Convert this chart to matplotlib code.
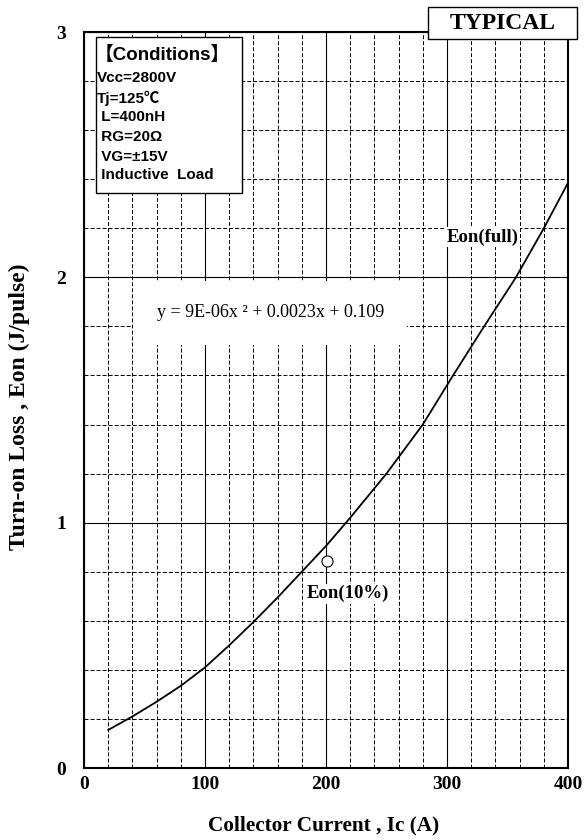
import matplotlib
matplotlib.use('Agg')
import matplotlib.pyplot as plt
from matplotlib.patches import Rectangle
from matplotlib.ticker import MultipleLocator

# curve
ic = [20, 40, 60, 80, 100, 120, 140, 160, 180, 200, 220, 250, 280, 305, 330, 357, 380, 400]
eon = [0.155, 0.21, 0.27, 0.335, 0.41, 0.50, 0.595, 0.695, 0.80, 0.905, 1.02, 1.20,
       1.40, 1.60, 1.795, 2.00, 2.20, 2.385]

# Eon(10%) marker
ic_10 = [201]
eon_10 = [0.845]

x_ticks = [0, 100, 200, 300, 400]
y_ticks = [0, 1, 2, 3]

conditions = ['Vcc=2800V', 'Tj=125\u2103', ' L=400nH', ' RG=20\u03a9', ' VG=\u00b115V', ' Inductive  Load']
equation = 'y = 9E-06x \u00b2 + 0.0023x + 0.109'

serif = 'Liberation Serif'
sans = ['Liberation Sans', 'Noto Sans CJK JP', 'DejaVu Sans']

fig = plt.figure(figsize=(5.84, 8.4), dpi=100)
ax = fig.add_axes([0.1438, 0.0857, 0.8288, 0.8762])

ax.set_xlim(0, 400)
ax.set_ylim(0, 3)
ax.xaxis.set_minor_locator(MultipleLocator(20))
ax.yaxis.set_minor_locator(MultipleLocator(0.2))
ax.set_xticks(x_ticks)
ax.set_yticks(y_ticks)

ax.grid(which='major', color='black', linewidth=0.8, linestyle='-')
ax.grid(which='minor', color='black', linewidth=0.7, linestyle=(0, (4.1, 2.1)))
ax.tick_params(which='both', length=0)
ax.tick_params(axis='x', pad=6)
ax.tick_params(axis='y', pad=13)
for lab in ax.get_xticklabels() + ax.get_yticklabels():
    lab.set_fontfamily(serif)
    lab.set_fontweight('bold')
    lab.set_fontsize(14)
for sp in ax.spines.values():
    sp.set_linewidth(1.5)
    sp.set_zorder(5)

ax.plot(ic, eon, color='black', linewidth=1.3, zorder=3)
ax.plot(ic_10, eon_10, 'o', markersize=8, markerfacecolor='white',
        markeredgecolor='black', markeredgewidth=0.8, zorder=4)

ax.text(184, 0.71, 'Eon(10%)', family=serif, fontweight='bold', fontsize=13.5,
        va='center', ha='left', zorder=4,
        bbox=dict(facecolor='white', edgecolor='none', pad=1))
ax.text(300, 2.165, 'Eon(full)', family=serif, fontweight='bold', fontsize=13.5,
        va='center', ha='left', zorder=4,
        bbox=dict(facecolor='white', edgecolor='none', pad=1))

ax.text(60, 1.855, equation, family=serif, fontsize=13, va='center', ha='left',
        zorder=4, bbox=dict(facecolor='white', edgecolor='none', pad=17))

# conditions box
ax.add_patch(Rectangle((0.024, 0.781), 0.302, 0.212, transform=ax.transAxes,
                       facecolor='white', edgecolor='black', linewidth=1.0, zorder=4))
ax.text(8.5, 2.884, '\u3010Conditions\u3011', family=sans, fontweight='bold',
        fontsize=13.5, va='baseline', ha='left', zorder=5)
cond_y = [2.797, 2.711, 2.638, 2.556, 2.474, 2.402]
for s, yy in zip(conditions, cond_y):
    ax.text(10.8, yy, s, family=sans, fontweight='bold', fontsize=11,
            va='baseline', ha='left', zorder=5)

# TYPICAL box
fig.patches.append(Rectangle((0.733, 0.9536), 0.255, 0.0381, transform=fig.transFigure,
                             facecolor='white', edgecolor='black', linewidth=1.0, zorder=2))
fig.text(0.8604, 0.9726, 'TYPICAL', family=serif, fontweight='bold', fontsize=17,
         ha='center', va='center', zorder=3)

fig.text(0.5537, 0.0167, 'Collector Current , Ic (A)', family=serif, fontweight='bold',
         fontsize=15.3, ha='center', va='center')
fig.text(0.034, 1 - 407 / 840, 'Turn-on Loss , Eon (J/pulse)', family=serif,
         fontweight='bold', fontsize=17, ha='center', va='center', rotation=90)

fig.savefig('out.png', dpi=100)
